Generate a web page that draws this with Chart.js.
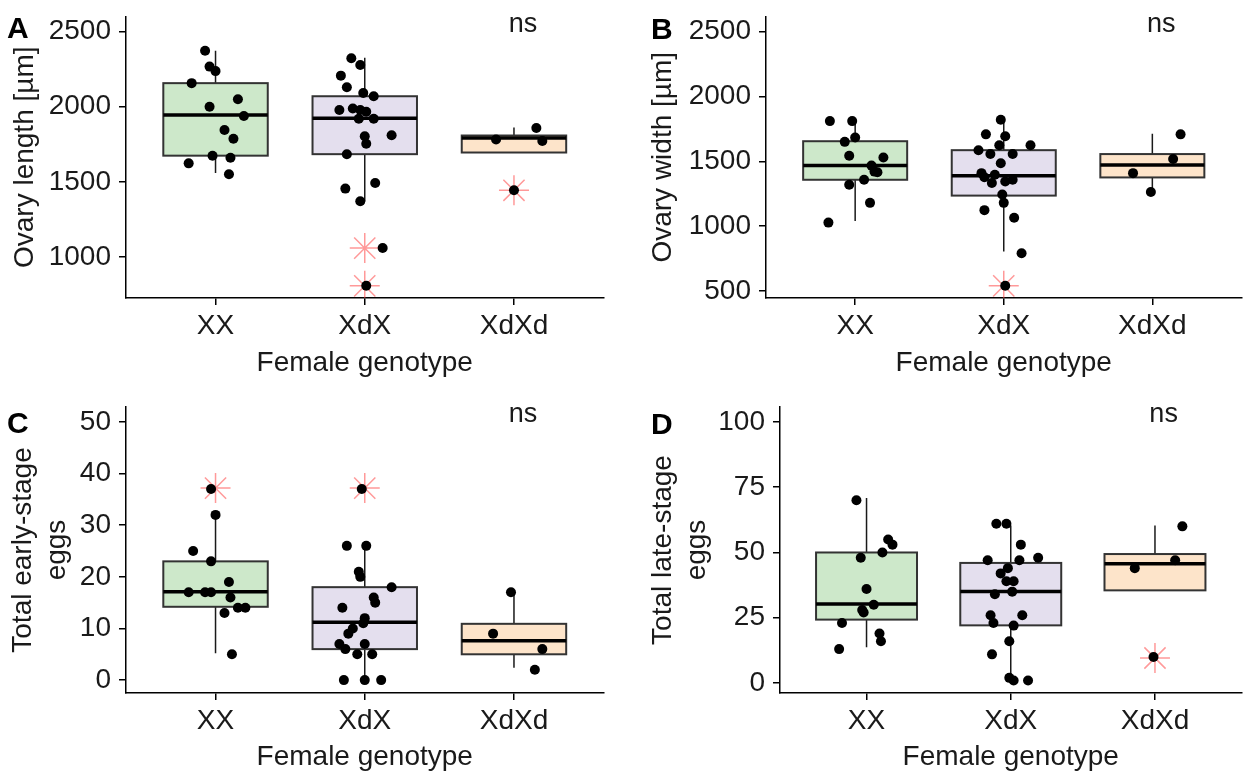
<!DOCTYPE html>
<html>
<head>
<meta charset="utf-8">
<title>Ovary size and egg counts by female genotype</title>
<script src="https://cdn.jsdelivr.net/npm/chart.js@4.4.0/dist/chart.umd.min.js"></script>
<style>
  body { margin: 0; background: #fff; width: 1258px; height: 772px; overflow: hidden; position: relative; }
  canvas { position: absolute; }
</style>
</head>
<body>
<canvas id="chartA" width="620" height="390" style="left:0;top:0"></canvas>
<canvas id="chartB" width="638" height="390" style="left:620px;top:0"></canvas>
<canvas id="chartC" width="620" height="392" style="left:0;top:390px"></canvas>
<canvas id="chartD" width="638" height="392" style="left:620px;top:390px"></canvas>
<script>
const genotypes = ["XX", "XdX", "XdXd"];
const boxFills = ["#cde8ca", "#e4dfee", "#fde4ca"];

// box stats per genotype: [lower whisker, q1, median, q3, upper whisker]
// A - ovary length
const lengthBoxes = [[1559, 1675, 1946, 2157, 2373], [1372, 1685, 1924, 2070, 2326], [1696, 1696, 1793, 1809, 1863]];
const lengthOutliers = [[], [1061, 810], [1445]];
const lengthValues = [
    [2372, 2267, 2237, 2157, 2050, 2000, 1939, 1846, 1787, 1675, 1661, 1624, 1552],
    [2322, 2278, 2207, 2130, 2091, 2070, 1978, 1989, 1978, 1967, 1920, 1920, 1811, 1804, 1754, 1685, 1493, 1456, 1372, 1061, 810],
    [1859, 1783, 1772, 1445]
];
const lengthJitter = [
    [-0.07, -0.04, 0.00, -0.16, 0.15, -0.04, 0.19, 0.06, 0.12, -0.02, 0.10, -0.18, 0.09],
    [-0.09, -0.03, -0.16, -0.12, -0.01, 0.06, -0.17, -0.08, -0.03, 0.01, -0.04, 0.06, 0.18, 0.00, 0.01, -0.12, 0.07, -0.13, -0.03, 0.12, 0.01],
    [0.15, -0.12, 0.19, 0.00]
];
const lengthTicks = [1000, 1500, 2000, 2500];

// B - ovary width
const widthBoxes = [[1041, 1358, 1467, 1655, 1810], [805, 1236, 1388, 1586, 1827], [1264, 1376, 1472, 1556, 1713]];
const widthOutliers = [[], [541], []];
const widthValues = [
    [1810, 1810, 1683, 1650, 1543, 1530, 1467, 1421, 1416, 1320, 1358, 1180, 1028],
    [1820, 1708, 1693, 1624, 1624, 1586, 1556, 1556, 1485, 1409, 1396, 1378, 1333, 1345, 1358, 1244, 1180, 1124, 1066, 792, 541],
    [1708, 1518, 1409, 1264]
];
const widthJitter = [
    [-0.17, -0.02, 0.00, -0.07, -0.04, 0.19, 0.11, 0.13, 0.15, -0.04, 0.06, 0.10, -0.18],
    [-0.02, -0.12, 0.01, -0.03, 0.18, -0.17, -0.09, 0.06, -0.02, -0.15, -0.06, -0.13, -0.08, 0.01, 0.06, -0.01, 0.00, -0.13, 0.07, 0.12, 0.01],
    [0.19, 0.14, -0.13, -0.01]
];
const widthTicks = [500, 1000, 1500, 2000, 2500];

// C - early-stage eggs
const earlyBoxes = [[5.2, 14.2, 17.1, 23.0, 32.2], [0, 6.0, 11.2, 18.0, 26.2], [2.4, 5.0, 7.6, 10.9, 17.3]];
const earlyOutliers = [[37.2], [37.2], []];
const earlyValues = [
    [37, 32, 25, 23, 19, 17, 17, 17, 16, 14, 14, 13, 5],
    [37, 26, 26, 21, 20, 18, 16, 15, 14, 12, 11, 10, 9, 7, 7, 6, 5, 5, 0, 0, 0],
    [17, 9, 6, 2]
];
const earlyJitter = [
    [-0.03, 0.00, -0.15, -0.03, 0.09, -0.18, -0.07, -0.03, 0.10, 0.15, 0.20, 0.06, 0.11],
    [-0.02, -0.12, 0.01, -0.04, -0.03, 0.18, 0.06, 0.07, -0.15, 0.00, -0.01, -0.08, -0.11, 0.00, -0.17, -0.13, -0.05, 0.05, -0.14, 0.00, 0.11],
    [-0.02, -0.14, 0.19, 0.14]
];
const earlyTicks = [0, 10, 20, 30, 40, 50];

// D - late-stage eggs
const lateBoxes = [[13.7, 24.3, 30.3, 50, 70.9], [1.3, 22.1, 35.1, 46, 60.3], [35.5, 35.5, 45.7, 49.4, 60.3]];
const lateOutliers = [[], [], [9.6]];
const lateValues = [
    [70, 55, 53, 50, 48, 36, 30, 28, 27, 23, 19, 16, 13],
    [61, 61, 53, 48, 47, 47, 44, 42, 39, 39, 35, 34, 26, 26, 23, 22, 16, 11, 2, 1, 1],
    [60, 47, 44, 10]
];
const lateJitter = [
    [-0.07, 0.15, 0.18, 0.11, -0.04, 0.00, 0.05, -0.03, -0.02, -0.17, 0.09, 0.10, -0.19],
    [-0.10, -0.03, 0.07, 0.19, -0.16, 0.06, -0.02, -0.07, -0.03, 0.02, 0.01, -0.11, 0.08, -0.14, -0.12, 0.02, -0.01, -0.13, -0.01, 0.02, 0.12],
    [0.19, 0.14, -0.14, -0.01]
];
const lateTicks = [0, 25, 50, 75, 100];

const FONT = "'Liberation Sans', Arial, sans-serif";
const boxWidth = 0.7;

function makePanel(id, p) {
    const points = p.values.flatMap((vals, g) => vals.map((v, k) => ({ x: g + 1 + p.jitter[g][k], y: v })));
    const outliers = p.outliers.flatMap((vals, g) => vals.map(v => ({ x: g + 1, y: v })));

    // draws boxes + whiskers under the points, letter and "ns" on top
    const boxes = {
        id: "boxes" + id,
        beforeDatasetsDraw(chart) {
            const { ctx, scales: { x, y } } = chart;
            p.boxes.forEach((s, i) => {
                const [lo, q1, med, q3, hi] = s;
                const left = x.getPixelForValue(i + 1 - boxWidth / 2);
                const right = x.getPixelForValue(i + 1 + boxWidth / 2);
                const cx = x.getPixelForValue(i + 1);
                const top = y.getPixelForValue(q3);
                const bottom = y.getPixelForValue(q1);
                ctx.save();
                ctx.strokeStyle = "#1a1a1a";
                ctx.lineWidth = 1.5;
                ctx.beginPath();
                ctx.moveTo(cx, y.getPixelForValue(hi));
                ctx.lineTo(cx, top);
                ctx.moveTo(cx, bottom);
                ctx.lineTo(cx, y.getPixelForValue(lo));
                ctx.stroke();
                ctx.fillStyle = boxFills[i];
                ctx.fillRect(left, top, right - left, bottom - top);
                ctx.strokeStyle = "#333";
                ctx.lineWidth = 2;
                ctx.strokeRect(left, top, right - left, bottom - top);
                const my = y.getPixelForValue(med);
                ctx.strokeStyle = "#000";
                ctx.lineWidth = 3.5;
                ctx.beginPath();
                ctx.moveTo(left, my);
                ctx.lineTo(right, my);
                ctx.stroke();
                ctx.restore();
            });
        },
        afterDraw(chart) {
            const { ctx, chartArea, scales: { x } } = chart;
            ctx.save();
            ctx.fillStyle = "#000";
            ctx.textAlign = "left";
            ctx.textBaseline = "middle";
            ctx.font = "bold 30px " + FONT;
            ctx.fillText(p.letter, p.letterX, p.letterY);
            ctx.font = "27px " + FONT;
            ctx.fillStyle = "#1a1a1a";
            ctx.textAlign = "center";
            ctx.textBaseline = "alphabetic";
            ctx.fillText("ns", x.getPixelForValue(3.06), chartArea.top + 15);
            ctx.restore();
        }
    };

    return new Chart(document.getElementById(id), {
        type: "scatter",
        data: {
            datasets: [
                {
                    data: points,
                    pointRadius: 5,
                    pointBorderWidth: 0,
                    backgroundColor: "#000",
                    borderColor: "#000",
                },
                {
                    data: outliers,
                    pointStyle: "star",
                    pointRadius: 15,
                    borderWidth: 1.5,
                    borderColor: "rgba(255, 70, 70, 0.55)",
                    backgroundColor: "rgba(0,0,0,0)",
                },
            ],
        },
        options: {
            responsive: false,
            animation: false,
            layout: { padding: { top: p.top, right: 0, left: 0, bottom: 0 } },
            plugins: { legend: { display: false }, tooltip: { enabled: false } },
            scales: {
                x: {
                    type: "linear",
                    min: 0.4,
                    max: 3.6,
                    afterBuildTicks: s => { s.ticks = [1, 2, 3].map(v => ({ value: v })); },
                    afterFit: s => { s.height = p.xHeight; s.paddingLeft = 0; s.paddingRight = 0; },
                    ticks: {
                        callback: v => genotypes[v - 1],
                        color: "#1a1a1a",
                        font: { family: FONT, size: 28 },
                        padding: 4,
                        maxRotation: 0,
                    },
                    grid: { drawOnChartArea: false, tickLength: 7, color: "#000", lineWidth: 1.5 },
                    border: { color: "#000", width: 1.5 },
                    title: {
                        display: true,
                        text: "Female genotype",
                        color: "#1a1a1a",
                        font: { family: FONT, size: 28, lineHeight: 1.22 },
                        padding: { bottom: p.xTitlePad, top: 0 },
                    },
                },
                y: {
                    type: "linear",
                    min: p.yMin,
                    max: p.yMax,
                    afterBuildTicks: s => { s.ticks = p.ticks.map(v => ({ value: v })); },
                    afterFit: s => { s.width = p.yWidth; s.paddingTop = 0; s.paddingBottom = 0; },
                    ticks: {
                        callback: v => String(v),
                        color: "#1a1a1a",
                        font: { family: FONT, size: 28 },
                        padding: 8,
                    },
                    grid: { drawOnChartArea: false, tickLength: 7, color: "#000", lineWidth: 1.5 },
                    border: { color: "#000", width: 1.5 },
                    title: {
                        display: true,
                        text: p.yTitle,
                        color: "#1a1a1a",
                        font: { family: FONT, size: 28, lineHeight: 1.22 },
                        padding: { top: p.yTitlePad, bottom: 0 },
                    },
                },
            },
        },
        plugins: [boxes],
    });
}

makePanel("chartA", {
    boxes: lengthBoxes, outliers: lengthOutliers, values: lengthValues, jitter: lengthJitter, ticks: lengthTicks,
    yMin: 729, yMax: 2600, yTitle: "Ovary length [µm]", yTitlePad: 8, yWidth: 126,
    top: 13, xHeight: 92, xTitlePad: 10, letter: "A", letterX: 7, letterY: 30,
});
makePanel("chartB", {
    boxes: widthBoxes, outliers: widthOutliers, values: widthValues, jitter: widthJitter, ticks: widthTicks,
    yMin: 447, yMax: 2616, yTitle: "Ovary width [µm]", yTitlePad: 26, yWidth: 146,
    top: 13, xHeight: 92, xTitlePad: 10, letter: "B", letterX: 31, letterY: 31,
});
makePanel("chartC", {
    boxes: earlyBoxes, outliers: earlyOutliers, values: earlyValues, jitter: earlyJitter, ticks: earlyTicks,
    yMin: -2.5, yMax: 52.9, yTitle: ["Total early-stage", "eggs"], yTitlePad: 6, yWidth: 126,
    top: 17, xHeight: 89, xTitlePad: 8, letter: "C", letterX: 7, letterY: 35,
});
makePanel("chartD", {
    boxes: lateBoxes, outliers: lateOutliers, values: lateValues, jitter: lateJitter, ticks: lateTicks,
    yMin: -3.8, yMax: 105.7, yTitle: ["Total late-stage", "eggs"], yTitlePad: 26, yWidth: 160,
    top: 17, xHeight: 89, xTitlePad: 8, letter: "D", letterX: 31, letterY: 36,
});
</script>
</body>
</html>
